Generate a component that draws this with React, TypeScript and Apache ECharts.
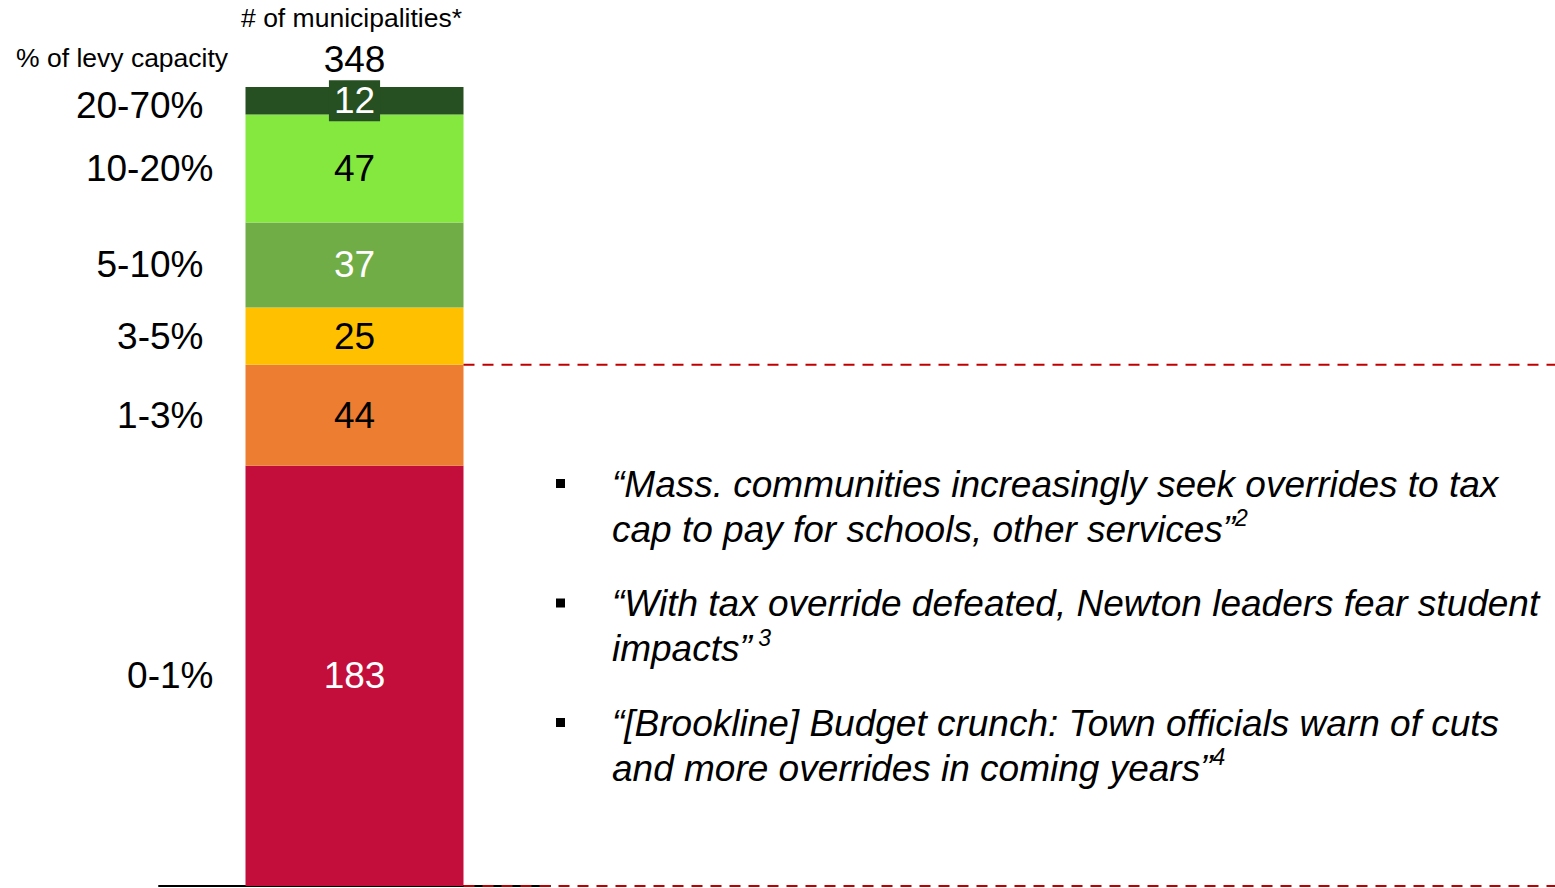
import React, { useEffect, useRef } from "react";
import * as echarts from "echarts";

const categories = ["Municipalities"];
const bandLabels = ["0-1%", "1-3%", "3-5%", "5-10%", "10-20%", "20-70%"];
const counts = [183, 44, 25, 37, 47, 12];
const thresholdBands = 2; // dashed line drawn above the first two bands (0-3%)
const axisTitle = "% of levy capacity";
const countTitle = "# of municipalities*";
const quotes = [
  { lines: ["“Mass. communities increasingly seek overrides to tax", "cap to pay for schools, other services”"], note: "2" },
  { lines: ["“With tax override defeated, Newton leaders fear student", "impacts”"], note: " 3" },
  { lines: ["“[Brookline] Budget crunch: Town officials warn of cuts", "and more overrides in coming years”"], note: "4" },
];

const colors = ["#C30E3B", "#ED7D31", "#FFC000", "#70AD47", "#84E83F", "#264F22"];
const labelColors = ["#ffffff", "#000000", "#000000", "#ffffff", "#000000", "#ffffff"];
const bandLabelGap = [32, 42, 42, 42, 32, 42];
const FONT = "'Liberation Sans', Arial, sans-serif";

export default function App() {
  const ref = useRef<HTMLDivElement>(null);
  useEffect(() => {
    document.body.style.margin = "0";
    const chart = echarts.init(ref.current!, null, { renderer: "svg" });
    const total = counts.reduce((a, b) => a + b, 0);
    const barWidth = 218;
    chart.setOption({
      animation: false,
      grid: { left: 159, right: 1005, top: 87, bottom: 2 },
      xAxis: {
        type: "category",
        data: categories,
        axisLine: { lineStyle: { color: "#000", width: 2 } },
        axisTick: { show: false },
        axisLabel: { show: false },
      },
      yAxis: { type: "value", min: 0, max: total, show: false, splitLine: { show: false } },
      series: counts.map((v, i) => ({
        type: "bar",
        stack: "total",
        name: bandLabels[i],
        data: [v],
        barWidth,
        itemStyle: { color: colors[i] },
        z: 2,
        label: {
          show: true,
          position: "inside",
          color: labelColors[i],
          fontSize: 37,
          fontFamily: FONT,
          ...(i === counts.length - 1
            ? { backgroundColor: colors[i], padding: [2, 5, 2, 5], lineHeight: 37 }
            : {}),
        },
      })),
    });

    const px = (y: number) => chart.convertToPixel({ gridIndex: 0 }, [0, y]) as number[];
    const [cx, topY] = px(total);
    const [, zeroY] = px(0);
    const barLeft = cx - barWidth / 2;
    const barRight = cx + barWidth / 2;
    let cum = 0;
    const bandTexts: any[] = counts.map((v, i) => {
      const mid = px(cum + v / 2)[1];
      cum += v;
      return {
        type: "text",
        x: barLeft - bandLabelGap[i],
        y: mid + (i === counts.length - 1 ? 5 : 0),
        style: { text: bandLabels[i], fontSize: 37, fontFamily: FONT, fill: "#000", align: "right", verticalAlign: "middle" },
      };
    });
    const thrY = px(counts.slice(0, thresholdBands).reduce((a, b) => a + b, 0))[1];

    const quoteEls: any[] = [];
    quotes.forEach((q, i) => {
      const y0 = 484 + i * 119.5;
      quoteEls.push({
        type: "rect",
        shape: { x: 556, y: y0 - 5, width: 9, height: 9 },
        style: { fill: "#000" },
      });
      const text =
        q.lines.map((l, j) => (j === q.lines.length - 1 ? `{a|${l}}{s|${q.note}}` : `{a|${l}}`)).join("\n");
      quoteEls.push({
        type: "text",
        x: 612,
        y: y0 - 22.5,
        style: {
          text,
          fontFamily: FONT,
          fill: "#000",
          rich: {
            a: { fontSize: 37, fontStyle: "italic", fontFamily: FONT, lineHeight: 45, fill: "#000" },
            s: { fontSize: 23, fontStyle: "italic", fontFamily: FONT, lineHeight: 45, fill: "#000", verticalAlign: "top", padding: [0, 0, 14, 0] },
          },
        },
      });
    });

    chart.setOption({
      graphic: [
        ...bandTexts,
        {
          type: "text",
          x: cx,
          y: topY - 28,
          style: { text: String(total), fontSize: 37, fontFamily: FONT, fill: "#000", align: "center", verticalAlign: "middle" },
        },
        {
          type: "text",
          x: cx - 3,
          y: 18,
          style: { text: countTitle, fontSize: 26.5, fontFamily: FONT, fill: "#000", align: "center", verticalAlign: "middle" },
        },
        {
          type: "text",
          x: 16,
          y: 58,
          style: { text: axisTitle, fontSize: 26.5, fontFamily: FONT, fill: "#000", align: "left", verticalAlign: "middle" },
        },
        {
          type: "line",
          z: 10,
          shape: { x1: barRight, y1: thrY, x2: 1555, y2: thrY },
          style: { stroke: "#C00000", lineWidth: 2, lineDash: [11, 8] },
        },
        {
          type: "line",
          z: 10,
          shape: { x1: barRight, y1: zeroY, x2: 1555, y2: zeroY },
          style: { stroke: "#C00000", lineWidth: 2, lineDash: [11, 8] },
        },
        ...quoteEls,
      ],
    });
    return () => chart.dispose();
  }, []);
  return <div ref={ref} style={{ width: 1555, height: 888 }} />;
}
